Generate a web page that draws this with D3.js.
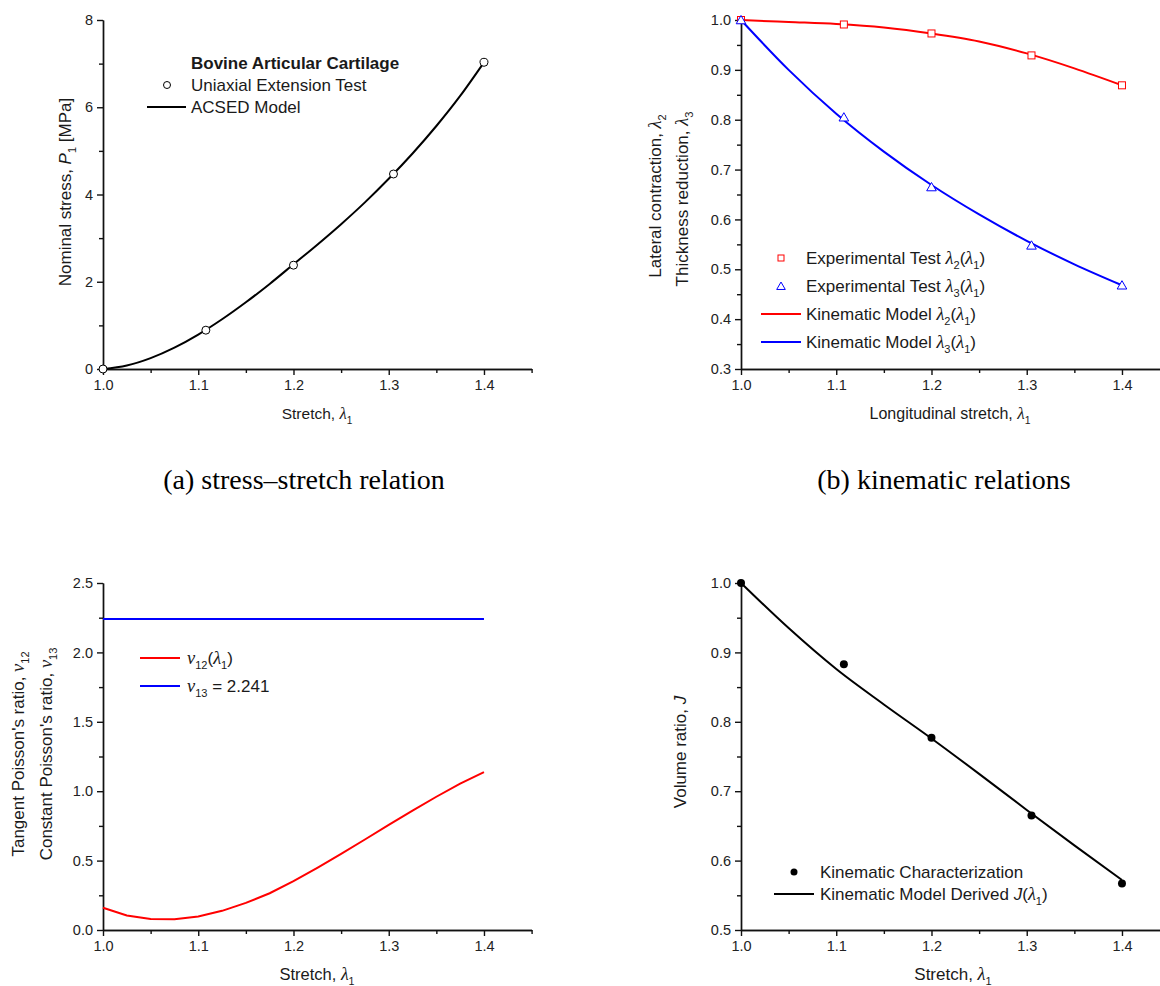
<!DOCTYPE html>
<html>
<head>
<meta charset="utf-8">
<script src="https://cdn.jsdelivr.net/npm/d3@7"></script>
<style>
  body { margin: 0; background: #fff; }
</style>
</head>
<body>
<script>
// ---- data ----
// (a) stress-stretch
var testStretch = [1.0, 1.108, 1.2, 1.305, 1.4];
var stressTest = [0, 0.89, 2.38, 4.47, 7.03];
var modelStretchA = [1.0, 1.025, 1.05, 1.075, 1.1, 1.125, 1.15, 1.175, 1.2, 1.225, 1.25, 1.275, 1.3, 1.325, 1.35, 1.375, 1.4];
var stressModel = [0, 0.08, 0.25, 0.49, 0.79, 1.14, 1.53, 1.95, 2.40, 2.85, 3.32, 3.82, 4.36, 4.94, 5.57, 6.26, 7.03];

// (b) kinematic relations
var lam2Test = [1.0, 0.991, 0.973, 0.929, 0.869];
var lam3Test = [1.0, 0.805, 0.665, 0.548, 0.468];
var modelStretchB = [1.0, 1.05, 1.1, 1.15, 1.2, 1.25, 1.3, 1.35, 1.4];
var lam2Model = [1.0, 0.996, 0.992, 0.985, 0.973, 0.957, 0.933, 0.903, 0.869];
var lam3Model = [1.0, 0.9, 0.812, 0.736, 0.669, 0.61, 0.557, 0.51, 0.468];

// (c) Poisson's ratios
var stretchC = [1.0, 1.025, 1.05, 1.075, 1.1, 1.125, 1.15, 1.175, 1.2, 1.225, 1.25, 1.275, 1.3, 1.325, 1.35, 1.375, 1.4];
var nu12 = [0.16, 0.105, 0.08, 0.078, 0.098, 0.138, 0.195, 0.265, 0.352, 0.448, 0.548, 0.652, 0.757, 0.86, 0.96, 1.055, 1.137];
var nu13 = 2.241;

// (d) volume ratio
var jTest = [1.0, 0.883, 0.777, 0.665, 0.567];
var jModel = [1.0, 0.935, 0.876, 0.825, 0.776, 0.725, 0.673, 0.622, 0.572];

var xMajor = [1.0, 1.1, 1.2, 1.3, 1.4];
var xMinor = [1.05, 1.15, 1.25, 1.35, 1.45];

var RED = '#ff0000', BLUE = '#0000ff';
var SANS = 'Arial, "Liberation Sans", sans-serif', SERIF = '"Liberation Serif", serif';

var svg = d3.select('body').append('svg').attr('width', 1160).attr('height', 986)
    .attr('font-family', SANS);

// rich text: parts = [{t, s}] s: undefined | 'gi' (greek italic serif) | 'i' (italic) | 'sub'
function rich(sel, parts, size) {
    var t = sel.append('text').attr('font-size', size).attr('fill', '#1a1a1a');
    var off = 0;
    parts.forEach(p => {
        var ts = t.append('tspan').text(p.t);
        var want = p.s == 'sub' ? size * 0.32 : 0;
        if (want != off) { ts.attr('dy', want - off); off = want; }
        if (p.s == 'sub') ts.attr('font-size', size * 0.65);
        if (p.s == 'gi') ts.attr('font-family', SERIF).attr('font-style', 'italic').attr('font-size', size * 1.08);
        if (p.s == 'i') ts.attr('font-style', 'italic');
    });
    return t;
}

function panel(o) {
    var g = svg.append('g');
    var x = d3.scaleLinear().domain([1.0, 1.45]).range([o.x0, o.x0 + 428.6]);
    var y = d3.scaleLinear().domain(o.ydom).range([o.yb, o.yt]);
    // minor ticks first
    g.append('g').attr('transform', 'translate(0,' + o.yb + ')')
        .call(d3.axisBottom(x).tickValues(xMinor).tickSize(4).tickSizeOuter(0).tickFormat(''));
    g.append('g').attr('transform', 'translate(' + o.x0 + ',0)')
        .call(d3.axisLeft(y).tickValues(o.yMinor).tickSize(4).tickSizeOuter(0).tickFormat(''));
    g.append('g').attr('transform', 'translate(0,' + o.yb + ')')
        .call(d3.axisBottom(x).tickValues(xMajor).tickSize(6).tickSizeOuter(0).tickPadding(5).tickFormat(d3.format('.1f')));
    g.append('g').attr('transform', 'translate(' + o.x0 + ',0)')
        .call(d3.axisLeft(y).tickValues(o.yMajor).tickSize(6).tickSizeOuter(0).tickPadding(4).tickFormat(o.yfmt));
    g.selectAll('.domain, .tick line').attr('stroke', '#111').attr('stroke-width', 1.4);
    g.selectAll('.tick text').attr('font-size', 14.5).attr('font-family', SANS).attr('fill', '#222');
    return {g: g, x: x, y: y};
}

function line(p, xs, ys, color, curve) {
    p.g.append('path')
        .attr('d', d3.line().x((d, i) => p.x(xs[i])).y(d => p.y(d)).curve(curve || d3.curveMonotoneX)(ys))
        .attr('fill', 'none').attr('stroke', color).attr('stroke-width', 2);
}

// ---------- (a) ----------
var pa = panel({x0: 103, yb: 369, yt: 20, ydom: [0, 8], yMajor: [0, 2, 4, 6, 8], yMinor: [1, 3, 5, 7], yfmt: d3.format('d')});
line(pa, modelStretchA, stressModel, '#000');
pa.g.selectAll('circle.pt').data(stressTest).enter().append('circle')
    .attr('cx', (d, i) => pa.x(testStretch[i])).attr('cy', d => pa.y(d)).attr('r', 4)
    .attr('fill', '#fff').attr('stroke', '#000').attr('stroke-width', 1);
rich(pa.g, [{t: 'Bovine Articular Cartilage'}], 17).attr('x', 191).attr('y', 69).attr('font-weight', 'bold');
pa.g.append('circle').attr('cx', 167).attr('cy', 85).attr('r', 3.5).attr('fill', '#fff').attr('stroke', '#000');
rich(pa.g, [{t: 'Uniaxial Extension Test'}], 17).attr('x', 191).attr('y', 91);
pa.g.append('line').attr('x1', 147).attr('x2', 186).attr('y1', 107).attr('y2', 107).attr('stroke', '#000').attr('stroke-width', 2);
rich(pa.g, [{t: 'ACSED Model'}], 17).attr('x', 191).attr('y', 113);
rich(pa.g, [{t: 'Nominal stress, '}, {t: 'P', s: 'i'}, {t: '1', s: 'sub'}, {t: ' [MPa]'}], 17)
    .attr('text-anchor', 'middle').attr('transform', 'translate(71,192) rotate(-90)');
rich(pa.g, [{t: 'Stretch, '}, {t: 'λ', s: 'gi'}, {t: '1', s: 'sub'}], 15.5)
    .attr('text-anchor', 'middle').attr('transform', 'translate(317,419)');

// ---------- (b) ----------
var pb = panel({x0: 741, yb: 369, yt: 20, ydom: [0.3, 1.0], yMajor: d3.range(3, 11).map(v => v / 10), yMinor: d3.range(7).map(v => 0.35 + v / 10), yfmt: d3.format('.1f')});
line(pb, modelStretchB, lam2Model, RED);
line(pb, modelStretchB, lam3Model, BLUE);
pb.g.selectAll('rect.pt').data(lam2Test).enter().append('rect')
    .attr('x', (d, i) => pb.x(testStretch[i]) - 3.5).attr('y', d => pb.y(d) - 3.5).attr('width', 7).attr('height', 7)
    .attr('fill', '#fff').attr('stroke', RED).attr('stroke-width', 1);
var tri = d3.symbol().type(d3.symbolTriangle).size(40);
pb.g.selectAll('path.pt').data(lam3Test).enter().append('path')
    .attr('d', tri).attr('transform', (d, i) => 'translate(' + pb.x(testStretch[i]) + ',' + (pb.y(d) + 1) + ')')
    .attr('fill', '#fff').attr('stroke', BLUE).attr('stroke-width', 1);
pb.g.append('rect').attr('x', 778).attr('y', 255).attr('width', 6).attr('height', 6).attr('fill', '#fff').attr('stroke', RED);
pb.g.append('path').attr('d', d3.symbol().type(d3.symbolTriangle).size(32)).attr('transform', 'translate(781,287)').attr('fill', '#fff').attr('stroke', BLUE);
pb.g.append('line').attr('x1', 761).attr('x2', 801).attr('y1', 314).attr('y2', 314).attr('stroke', RED).attr('stroke-width', 2);
pb.g.append('line').attr('x1', 761).attr('x2', 801).attr('y1', 342).attr('y2', 342).attr('stroke', BLUE).attr('stroke-width', 2);
var legB = [
    [{t: 'Experimental Test '}, {t: 'λ', s: 'gi'}, {t: '2', s: 'sub'}, {t: '('}, {t: 'λ', s: 'gi'}, {t: '1', s: 'sub'}, {t: ')'}],
    [{t: 'Experimental Test '}, {t: 'λ', s: 'gi'}, {t: '3', s: 'sub'}, {t: '('}, {t: 'λ', s: 'gi'}, {t: '1', s: 'sub'}, {t: ')'}],
    [{t: 'Kinematic Model '}, {t: 'λ', s: 'gi'}, {t: '2', s: 'sub'}, {t: '('}, {t: 'λ', s: 'gi'}, {t: '1', s: 'sub'}, {t: ')'}],
    [{t: 'Kinematic Model '}, {t: 'λ', s: 'gi'}, {t: '3', s: 'sub'}, {t: '('}, {t: 'λ', s: 'gi'}, {t: '1', s: 'sub'}, {t: ')'}]
];
legB.forEach((parts, i) => rich(pb.g, parts, 17).attr('x', 806).attr('y', 264 + i * 28));
rich(pb.g, [{t: 'Lateral contraction, '}, {t: 'λ', s: 'gi'}, {t: '2', s: 'sub'}], 17)
    .attr('text-anchor', 'middle').attr('transform', 'translate(661,196) rotate(-90)');
rich(pb.g, [{t: 'Thickness reduction, '}, {t: 'λ', s: 'gi'}, {t: '3', s: 'sub'}], 17)
    .attr('text-anchor', 'middle').attr('transform', 'translate(688,199) rotate(-90)');
rich(pb.g, [{t: 'Longitudinal stretch, '}, {t: 'λ', s: 'gi'}, {t: '1', s: 'sub'}], 16)
    .attr('text-anchor', 'middle').attr('transform', 'translate(950,419)');

// ---------- (c) ----------
var pc = panel({x0: 103, yb: 930, yt: 583, ydom: [0, 2.5], yMajor: [0, 0.5, 1.0, 1.5, 2.0, 2.5], yMinor: [0.25, 0.75, 1.25, 1.75, 2.25], yfmt: d3.format('.1f')});
line(pc, [1.0, 1.4], [nu13, nu13], BLUE, d3.curveLinear);
line(pc, stretchC, nu12, RED, d3.curveLinear);
pc.g.append('line').attr('x1', 140).attr('x2', 180).attr('y1', 658).attr('y2', 658).attr('stroke', RED).attr('stroke-width', 2);
pc.g.append('line').attr('x1', 140).attr('x2', 180).attr('y1', 686).attr('y2', 686).attr('stroke', BLUE).attr('stroke-width', 2);
rich(pc.g, [{t: 'ν', s: 'gi'}, {t: '12', s: 'sub'}, {t: '('}, {t: 'λ', s: 'gi'}, {t: '1', s: 'sub'}, {t: ')'}], 17).attr('x', 187).attr('y', 664);
rich(pc.g, [{t: 'ν', s: 'gi'}, {t: '13', s: 'sub'}, {t: ' = 2.241'}], 17).attr('x', 187).attr('y', 692);
rich(pc.g, [{t: 'Tangent Poisson\'s ratio, '}, {t: 'ν', s: 'gi'}, {t: '12', s: 'sub'}], 17)
    .attr('text-anchor', 'middle').attr('transform', 'translate(24,754) rotate(-90)');
rich(pc.g, [{t: 'Constant Poisson\'s ratio, '}, {t: 'ν', s: 'gi'}, {t: '13', s: 'sub'}], 17)
    .attr('text-anchor', 'middle').attr('transform', 'translate(52,754) rotate(-90)');
rich(pc.g, [{t: 'Stretch, '}, {t: 'λ', s: 'gi'}, {t: '1', s: 'sub'}], 16.5)
    .attr('text-anchor', 'middle').attr('transform', 'translate(317,980)');

// ---------- (d) ----------
var pd = panel({x0: 741, yb: 930, yt: 583, ydom: [0.5, 1.0], yMajor: [0.5, 0.6, 0.7, 0.8, 0.9, 1.0], yMinor: [0.55, 0.65, 0.75, 0.85, 0.95], yfmt: d3.format('.1f')});
line(pd, modelStretchB, jModel, '#000');
pd.g.selectAll('circle.pt').data(jTest).enter().append('circle')
    .attr('cx', (d, i) => pd.x(testStretch[i])).attr('cy', d => pd.y(d)).attr('r', 4).attr('fill', '#000');
pd.g.append('circle').attr('cx', 794).attr('cy', 872).attr('r', 3.5).attr('fill', '#000');
pd.g.append('line').attr('x1', 774).attr('x2', 814).attr('y1', 894).attr('y2', 894).attr('stroke', '#000').attr('stroke-width', 2);
rich(pd.g, [{t: 'Kinematic Characterization'}], 17).attr('x', 820).attr('y', 878);
rich(pd.g, [{t: 'Kinematic Model Derived '}, {t: 'J', s: 'i'}, {t: '('}, {t: 'λ', s: 'gi'}, {t: '1', s: 'sub'}, {t: ')'}], 17).attr('x', 820).attr('y', 900);
rich(pd.g, [{t: 'Volume ratio, '}, {t: 'J', s: 'i'}], 17)
    .attr('text-anchor', 'middle').attr('transform', 'translate(686,752) rotate(-90)');
rich(pd.g, [{t: 'Stretch, '}, {t: 'λ', s: 'gi'}, {t: '1', s: 'sub'}], 17)
    .attr('text-anchor', 'middle').attr('transform', 'translate(953,980)');

// ---------- captions ----------
svg.append('text').text('(a) stress\u2013stretch relation').attr('x', 304).attr('y', 489)
    .attr('text-anchor', 'middle').attr('font-size', 28).attr('font-family', SERIF).attr('fill', '#000');
svg.append('text').text('(b) kinematic relations').attr('x', 944).attr('y', 489)
    .attr('text-anchor', 'middle').attr('font-size', 28).attr('font-family', SERIF).attr('fill', '#000');
</script>
</body>
</html>
